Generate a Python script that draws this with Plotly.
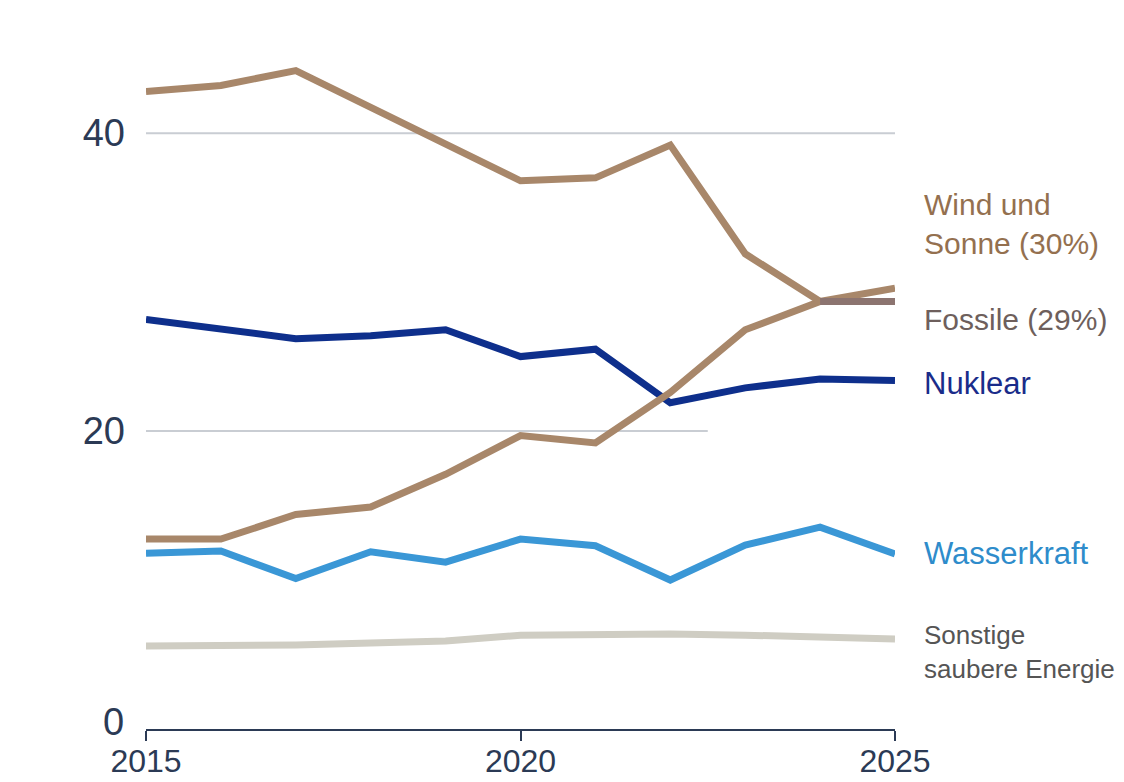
import plotly.graph_objects as go

years = list(range(2015, 2026))
fossil = [42.8, 43.2, 44.2, 41.7, 39.3, 36.8, 37.0, 39.2, 31.9, 28.7, 28.7]
wind_solar = [12.75, 12.75, 14.4, 14.9, 17.1, 19.7, 19.2, 22.6, 26.8, 28.7, 29.6]
nuclear = [27.5, 26.8, 26.2, 26.4, 26.8, 25.0, 25.5, 21.9, 22.9, 23.5, 23.4]
hydro = [11.8, 11.95, 10.1, 11.9, 11.2, 12.75, 12.3, 10.0, 12.35, 13.55, 11.75]
other = [5.57, 5.57, 5.64, 5.77, 5.9, 6.3, 6.38, 6.38, 6.3, 6.17, 6.04]

label_texts = ["Wind und<br>Sonne (30%)", "Fossile (29%)", "Nuklear", "Wasserkraft",
               "Sonstige<br>saubere Energie"]
label_y = [33.9, 27.5, 23.2, 11.8, 5.2]
label_colors = ["#94704F", "#6E5F5C", "#1A2C8A", "#2E8CCB", "#555555"]
label_sizes = [30, 30, 31, 31, 26]

y_ticks = [0, 20, 40]
x_ticks = [2015, 2020, 2025]

TAN = "#A8876A"
FOSSIL_END = "#8C7470"
NAVY = "#0E2F8C"
BLUE = "#3A97D6"
GREY = "#CFCDC3"
AXIS = "#2B3A55"
LW = 7

fig = go.Figure()
series = [
    (other, GREY),
    (hydro, BLUE),
    (nuclear, NAVY),
    (wind_solar, TAN),
    (fossil, TAN),
]
for vals, col in series:
    fig.add_trace(go.Scatter(x=years, y=vals, mode="lines",
                             line=dict(color=col, width=LW), cliponaxis=False,
                             hoverinfo="skip", showlegend=False))
# fossil tail segment in darker tone
fig.add_trace(go.Scatter(x=years[-2:], y=fossil[-2:], mode="lines",
                         line=dict(color=FOSSIL_END, width=LW), cliponaxis=False,
                         hoverinfo="skip", showlegend=False))

# gridlines
fig.add_shape(type="line", xref="x", yref="y", x0=2015, x1=2025.07, y0=40, y1=40,
              line=dict(color="#C9CDD3", width=2), layer="below")
fig.add_shape(type="line", xref="x", yref="y", x0=2015, x1=2022.5, y0=20, y1=20,
              line=dict(color="#C9CDD3", width=2), layer="below")

for txt, yv, col, sz in zip(label_texts, label_y, label_colors, label_sizes):
    fig.add_annotation(x=2025, y=yv, xref="x", yref="y", text=txt, showarrow=False,
                       xanchor="left", yanchor="middle", xshift=27, align="left",
                       font=dict(size=sz, color=col, family="Liberation Sans, Arial"))

# "0" label sits slightly above the axis line
fig.add_annotation(x=0, y=y_ticks[0], xref="paper", yref="y", text=str(y_ticks[0]),
                   showarrow=False, xanchor="right", yanchor="middle", xshift=-20, yshift=7,
                   font=dict(size=38, color=AXIS, family="Liberation Sans, Arial"))

fig.update_layout(
    width=1108, height=774,
    margin=dict(l=138, r=221, t=6, b=53, autoexpand=False),
    paper_bgcolor="white", plot_bgcolor="white",
    font=dict(family="Liberation Sans, Arial", color=AXIS),
    xaxis=dict(range=[2015, 2025], tickvals=x_ticks, ticktext=[str(v) for v in x_ticks],
               showgrid=False, zeroline=False, showline=True, linecolor=AXIS, linewidth=2,
               ticks="outside", ticklen=10, tickwidth=2, tickcolor=AXIS, automargin=False,
               tickfont=dict(size=32, color=AXIS), ticklabelstandoff=-7),
    yaxis=dict(range=[0, 48], tickvals=y_ticks[1:], ticktext=[str(v) for v in y_ticks[1:]],
               showgrid=False, zeroline=False, showline=False, ticks="", automargin=False,
               tickfont=dict(size=38, color=AXIS), ticklabelstandoff=20),
)

fig.write_html("out.html")
